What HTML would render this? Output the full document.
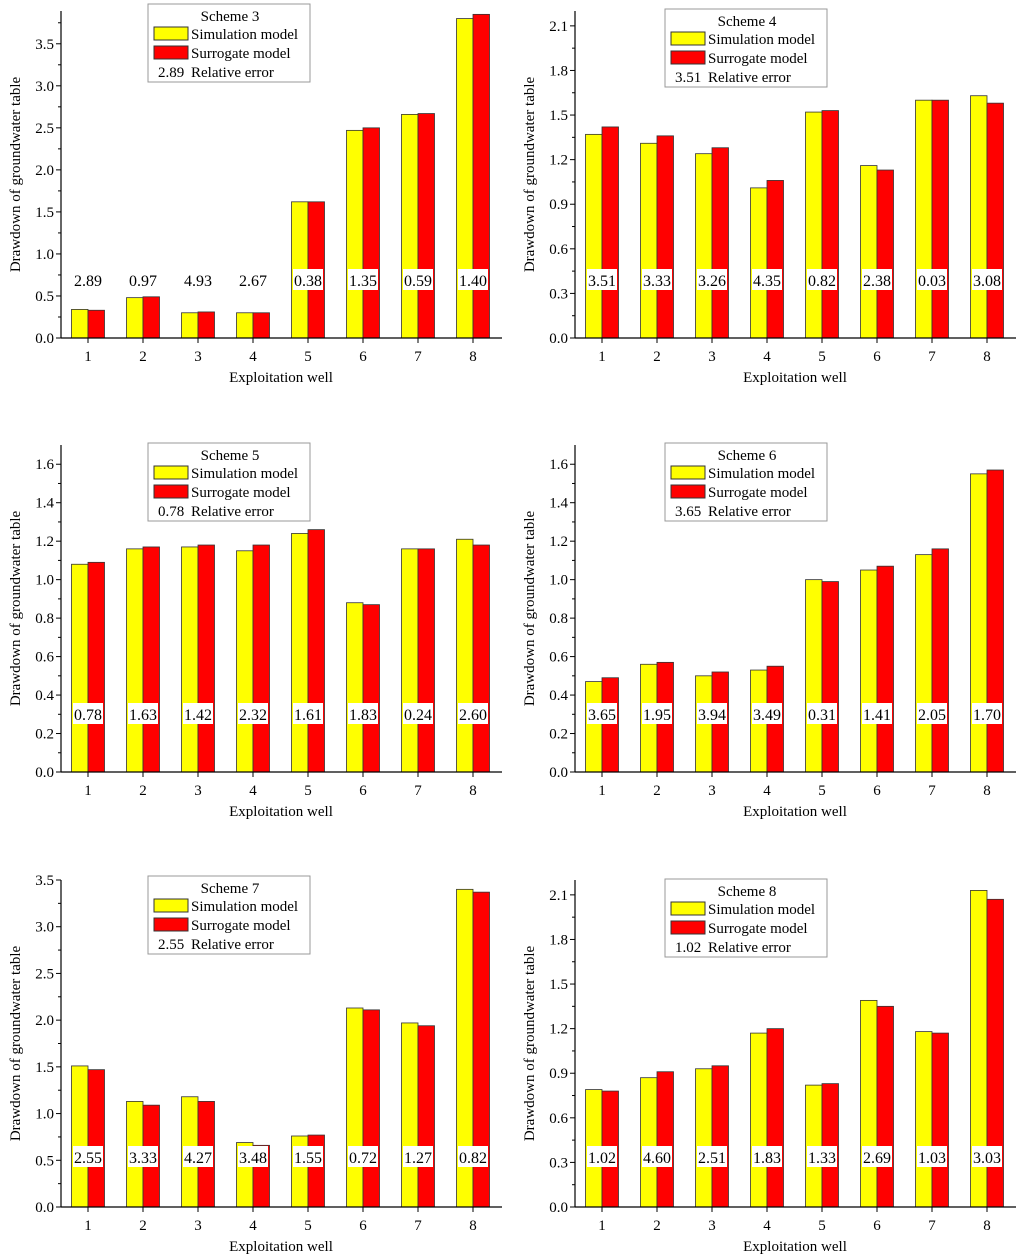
<!DOCTYPE html>
<html><head><meta charset="utf-8"><style>
body{margin:0;background:#fff}
svg{display:block;font-family:"Liberation Serif",serif}
</style></head><body>
<svg id="c" width="1024" height="1259" viewBox="0 0 1024 1259"></svg>
<script>
const categories=[1,2,3,4,5,6,7,8];
const scheme3Sim=[0.34,0.48,0.30,0.30,1.62,2.47,2.66,3.80];
const scheme3Sur=[0.33,0.49,0.31,0.30,1.62,2.50,2.67,3.85];
const scheme3Err=["2.89","0.97","4.93","2.67","0.38","1.35","0.59","1.40"];
const scheme4Sim=[1.37,1.31,1.24,1.01,1.52,1.16,1.60,1.63];
const scheme4Sur=[1.42,1.36,1.28,1.06,1.53,1.13,1.60,1.58];
const scheme4Err=["3.51","3.33","3.26","4.35","0.82","2.38","0.03","3.08"];
const scheme5Sim=[1.08,1.16,1.17,1.15,1.24,0.88,1.16,1.21];
const scheme5Sur=[1.09,1.17,1.18,1.18,1.26,0.87,1.16,1.18];
const scheme5Err=["0.78","1.63","1.42","2.32","1.61","1.83","0.24","2.60"];
const scheme6Sim=[0.47,0.56,0.50,0.53,1.00,1.05,1.13,1.55];
const scheme6Sur=[0.49,0.57,0.52,0.55,0.99,1.07,1.16,1.57];
const scheme6Err=["3.65","1.95","3.94","3.49","0.31","1.41","2.05","1.70"];
const scheme7Sim=[1.51,1.13,1.18,0.69,0.76,2.13,1.97,3.40];
const scheme7Sur=[1.47,1.09,1.13,0.66,0.77,2.11,1.94,3.37];
const scheme7Err=["2.55","3.33","4.27","3.48","1.55","0.72","1.27","0.82"];
const scheme8Sim=[0.79,0.87,0.93,1.17,0.82,1.39,1.18,2.13];
const scheme8Sur=[0.78,0.91,0.95,1.20,0.83,1.35,1.17,2.07];
const scheme8Err=["1.02","4.60","2.51","1.83","1.33","2.69","1.03","3.03"];
const ticks3=["0.0","0.5","1.0","1.5","2.0","2.5","3.0","3.5"];
const ticks4=["0.0","0.3","0.6","0.9","1.2","1.5","1.8","2.1"];
const ticks5=["0.0","0.2","0.4","0.6","0.8","1.0","1.2","1.4","1.6"];

const NS="http://www.w3.org/2000/svg";
const svg=document.getElementById('c');
function mk(tag,attrs,parent,text){const e=document.createElementNS(NS,tag);for(const k in attrs)e.setAttribute(k,attrs[k]);if(text!==undefined)e.textContent=text;parent.appendChild(e);return e;}

const panels=[
 {name:"scheme-3",title:"Scheme 3",sim:scheme3Sim,sur:scheme3Sur,err:scheme3Err,ticks:ticks3,max:3.89,ax:61,top:11,bot:338,lab:280,lx:148,ly:4},
 {name:"scheme-4",title:"Scheme 4",sim:scheme4Sim,sur:scheme4Sur,err:scheme4Err,ticks:ticks4,max:2.2,ax:575,top:11,bot:338,lab:280,lx:665,ly:9},
 {name:"scheme-5",title:"Scheme 5",sim:scheme5Sim,sur:scheme5Sur,err:scheme5Err,ticks:ticks5,max:1.7,ax:61,top:445,bot:772,lab:714,lx:148,ly:443},
 {name:"scheme-6",title:"Scheme 6",sim:scheme6Sim,sur:scheme6Sur,err:scheme6Err,ticks:ticks5,max:1.7,ax:575,top:445,bot:772,lab:714,lx:665,ly:443},
 {name:"scheme-7",title:"Scheme 7",sim:scheme7Sim,sur:scheme7Sur,err:scheme7Err,ticks:ticks3,max:3.5,ax:61,top:880,bot:1207,lab:1157,lx:148,ly:876},
 {name:"scheme-8",title:"Scheme 8",sim:scheme8Sim,sur:scheme8Sur,err:scheme8Err,ticks:ticks4,max:2.2,ax:575,top:880,bot:1207,lab:1157,lx:665,ly:879}
];

panels.forEach(p=>{
 const g=mk('g',{},svg);
 
 
 const right=p.ax+441;
 const y=v=>p.bot-(v/p.max)*(p.bot-p.top);
 const x=i=>p.ax+27+i*55;
 const bw=16.5;
 categories.forEach((c,i)=>{
  const r1=mk('rect',{x:x(i)-bw,y:y(p.sim[i]),width:bw,height:p.bot-y(p.sim[i]),fill:'#ffff00',stroke:'#333','stroke-width':0.8},g);
  
  
  const r2=mk('rect',{x:x(i),y:y(p.sur[i]),width:bw,height:p.bot-y(p.sur[i]),fill:'#ff0000',stroke:'#333','stroke-width':0.8},g);
  
  
  const lb=mk('rect',{x:x(i)-15,y:p.lab-11,width:30,height:21,fill:'#fff'},g);
  
  
  const t=mk('text',{x:x(i),y:p.lab+6,'font-size':16,'text-anchor':'middle'},g,p.err[i]);
  
  
  const tk=mk('line',{x1:x(i),x2:x(i),y1:p.bot,y2:p.bot+5,stroke:'#000'},g);
  
  
  const tl=mk('text',{x:x(i),y:p.bot+23,'font-size':15,'text-anchor':'middle'},g,String(c));
  
  
 });
 const ya=mk('line',{x1:p.ax,x2:p.ax,y1:p.top,y2:p.bot,stroke:'#000','stroke-width':1.2},g);
 
 
 const xa=mk('line',{x1:p.ax,x2:right,y1:p.bot,y2:p.bot,stroke:'#000','stroke-width':1.2},g);
 
 
 const step=parseFloat(p.ticks[1]);
 p.ticks.forEach((tv,j)=>{
  const v=parseFloat(tv);
  const ty=y(v);
  const l=mk('line',{x1:p.ax-5,x2:p.ax,y1:ty,y2:ty,stroke:'#000'},g);
  
  
  const t=mk('text',{x:p.ax-7,y:ty+5,'font-size':15,'text-anchor':'end'},g,tv);
  
  
  const mv=v+step/2;
  if(mv<=p.max){const m=mk('line',{x1:p.ax-3,x2:p.ax,y1:y(mv),y2:y(mv),stroke:'#000'},g);
   
   }
 });
 const cy=(p.top+p.bot)/2;
 const yt=mk('text',{x:0,y:0,'font-size':15,'text-anchor':'middle',transform:`translate(${p.ax-41},${cy}) rotate(-90)`},g,'Drawdown of groundwater table');
 
 
 const xt=mk('text',{x:p.ax+220,y:p.bot+44,'font-size':15,'text-anchor':'middle'},g,'Exploitation well');
 
 
 const lg=mk('g',{},g);
 
 
 mk('rect',{x:p.lx,y:p.ly,width:162,height:78,fill:'#fff',stroke:'#999'},lg);
 const lt=mk('text',{x:p.lx+82,y:p.ly+17,'font-size':15,'text-anchor':'middle'},lg,p.title);
 
 
 mk('rect',{x:p.lx+6,y:p.ly+23,width:34,height:13,fill:'#ffff00',stroke:'#333'},lg);
 const e1=mk('text',{x:p.lx+43,y:p.ly+35,'font-size':15},lg,'Simulation model');
 
 
 mk('rect',{x:p.lx+6,y:p.ly+42,width:34,height:13,fill:'#ff0000',stroke:'#333'},lg);
 const e2=mk('text',{x:p.lx+43,y:p.ly+54,'font-size':15},lg,'Surrogate model');
 
 
 const e3=mk('text',{x:p.lx+10,y:p.ly+73,'font-size':15},lg,p.err[0]);
 
 
 const e4=mk('text',{x:p.lx+43,y:p.ly+73,'font-size':15},lg,'Relative error');
 
 
});
</script>
</body></html>
